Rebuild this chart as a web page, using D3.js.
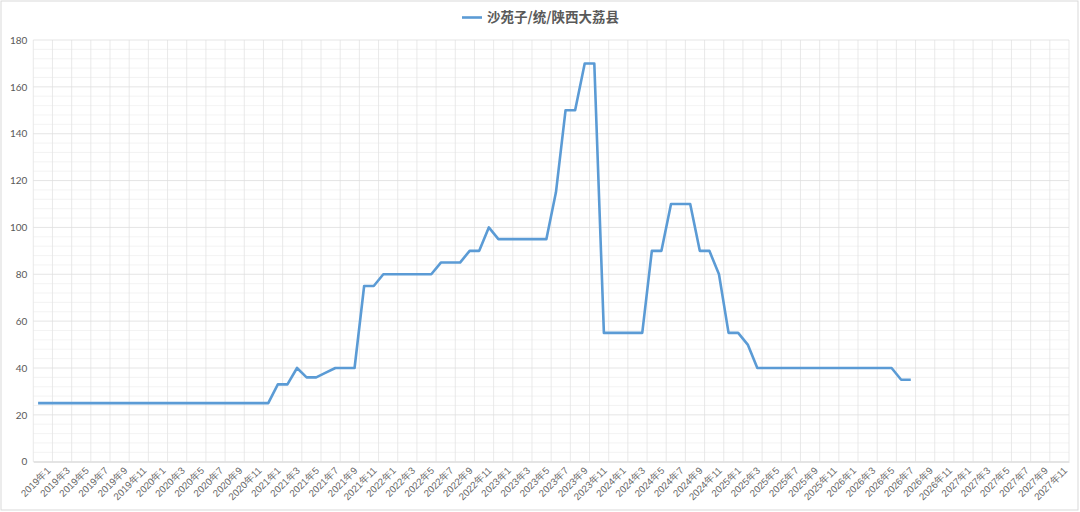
<!DOCTYPE html>
<html>
<head>
<meta charset="utf-8">
<script src="https://cdn.jsdelivr.net/npm/d3@7.9.0/dist/d3.min.js"></script>
<style>
  body { margin: 0; background: #fff; }
  svg { display: block; font-family: "Noto Sans CJK SC", "Noto Sans", sans-serif; }
</style>
</head>
<body>
<svg width="1080" height="512"></svg>
<script>
// months 2019年1 .. 2027年12
const years = [2019, 2020, 2021, 2022, 2023, 2024, 2025, 2026, 2027];
const months = years.flatMap(y => d3.range(1, 13).map(m => `${y}年${m}`));

// 沙苑子/统/陕西大荔县, 2019年1 .. 2026年8
const prices = [
  25, 25, 25, 25, 25, 25, 25, 25, 25, 25, 25, 25,   // 2019
  25, 25, 25, 25, 25, 25, 25, 25, 25, 25, 25, 25,   // 2020
  25, 33, 33, 40, 36, 36, 38, 40, 40, 40, 75, 75,   // 2021
  80, 80, 80, 80, 80, 80, 85, 85, 85, 90, 90, 100,  // 2022
  95, 95, 95, 95, 95, 95, 115, 150, 150, 170, 170, 55, // 2023
  55, 55, 55, 55, 90, 90, 110, 110, 110, 90, 90, 80, // 2024
  55, 55, 50, 40, 40, 40, 40, 40, 40, 40, 40, 40,   // 2025
  40, 40, 40, 40, 40, 40, 35, 35                    // 2026
];
const seriesName = "沙苑子/统/陕西大荔县";
const yTicks = [0, 20, 40, 60, 80, 100, 120, 140, 160, 180];

const svg = d3.select("svg");
const plotL = 33.3, plotR = 1069, plotT = 40, plotB = 461.7;

const x = d3.scaleBand().domain(months).range([plotL, plotR]).padding(0);
const y = d3.scaleLinear().domain([0, 180]).range([plotB, plotT]);
const bw = x.bandwidth();

// outer frame
svg.append("rect")
  .attr("x", 1).attr("y", 1).attr("width", 1077).attr("height", 509)
  .attr("fill", "none").attr("stroke", "#d9d9d9");

// minor horizontal grid
svg.append("g").selectAll("line")
  .data(d3.range(0, 181, 4).filter(v => v % 20 !== 0))
  .join("line")
  .attr("x1", plotL).attr("x2", plotR)
  .attr("y1", d => y(d)).attr("y2", d => y(d))
  .attr("stroke", "#f0f0f0").attr("stroke-width", 0.8);

// vertical grid every 2 months
const vLines = months.filter((m, i) => i % 2 === 0).map(m => x(m)).concat([plotR]);
svg.append("g").selectAll("line")
  .data(vLines)
  .join("line")
  .attr("x1", d => d).attr("x2", d => d)
  .attr("y1", plotT).attr("y2", plotB)
  .attr("stroke", "#e3e3e3").attr("stroke-width", 0.8);

// major horizontal grid
svg.append("g").selectAll("line")
  .data(yTicks)
  .join("line")
  .attr("x1", plotL).attr("x2", plotR)
  .attr("y1", d => y(d)).attr("y2", d => y(d))
  .attr("stroke", "#dedede").attr("stroke-width", 0.8);

// y axis labels
const yAxis = d3.axisLeft(y).tickValues(yTicks).tickSize(0).tickPadding(6);
svg.append("g")
  .attr("transform", `translate(${plotL},0)`)
  .call(yAxis)
  .call(g => g.select(".domain").remove())
  .call(g => g.selectAll("text")
    .attr("fill", "#595959").attr("font-size", "10px")
    .attr("font-family", "Lato, 'Noto Sans', sans-serif"));

// x axis labels, every 2 months
const xAxis = d3.axisBottom(x)
  .tickValues(months.filter((m, i) => i % 2 === 0))
  .tickSize(0);
svg.append("g")
  .attr("transform", `translate(0,${plotB})`)
  .call(xAxis)
  .call(g => g.select(".domain").attr("stroke", "#d9d9d9"))
  .call(g => g.selectAll("text")
    .attr("fill", "#666").attr("font-size", "9.8px")
    .attr("text-anchor", "end")
    .attr("x", 0).attr("y", 0).attr("dy", "0.35em")
    .attr("transform", `translate(${bw / 2 + 6},7) rotate(-45)`));

// the price line
const line = d3.line()
  .x((d, i) => x(months[i]) + bw / 2)
  .y(d => y(d));
svg.append("path")
  .datum(prices)
  .attr("d", line)
  .attr("fill", "none")
  .attr("stroke", "#5b9bd5")
  .attr("stroke-width", 2.6)
  .attr("stroke-linejoin", "round");

// legend on top
const legend = svg.append("g").attr("transform", "translate(462,17.5)");
legend.append("line")
  .attr("x1", 0).attr("x2", 20).attr("y1", 0).attr("y2", 0)
  .attr("stroke", "#5b9bd5").attr("stroke-width", 2.6);
legend.append("text")
  .attr("x", 25).attr("dy", "0.36em")
  .attr("fill", "#595959").attr("font-size", "13.5px").attr("font-weight", "bold")
  .text(seriesName);
</script>
</body>
</html>
